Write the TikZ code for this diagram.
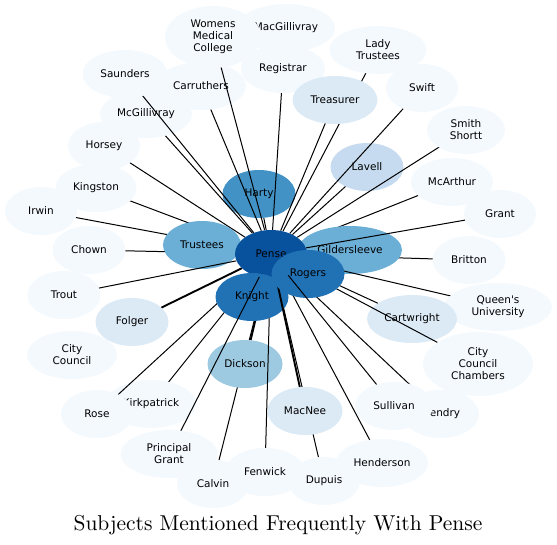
\documentclass[tikz,border=0pt]{standalone}
\usepackage{fontspec}
\newfontfamily\labfont{DejaVu Sans}
\newfontfamily\titlefont{lmroman10-regular}[Extension=.otf]
\usetikzlibrary{shapes.geometric}
\definecolor{b9}{HTML}{08519C}
\definecolor{b8}{HTML}{2171B5}
\definecolor{b7}{HTML}{4292C6}
\definecolor{b6}{HTML}{6BAED6}
\definecolor{b5}{HTML}{9ECAE1}
\definecolor{b4}{HTML}{C6DBEF}
\definecolor{b3}{HTML}{DCEAF6}
\definecolor{b1}{HTML}{F4F9FE}
\tikzset{
  basenode/.style={ellipse, minimum width=72pt, minimum height=48pt, inner sep=0pt},
  nd/.style 2 args={ellipse, inner sep=0pt, minimum height=48pt, minimum width=#2,
    fill=#1, draw=none, font=\labfont\fontsize{10.5}{12}\selectfont, align=center, text=black},
  edge/.style={draw=black, line width=1pt},
  heavyedge/.style={draw=black, line width=1.9pt},
  titlestyle/.style={font=\titlefont\fontsize{21.5}{26}\selectfont, anchor=base}
}
\begin{document}
\begin{tikzpicture}[x=1pt,y=-1pt]
\useasboundingbox (0,0) rectangle (557,545);
% invisible base nodes (edge ends)
\foreach \n/\x/\y in {pense/271/254, rogers/308/274, knight/252/297, harty/259/194,
  trustees/202/245, gilder/350/250, dickson/245/364, lavell/367/167,
  treasurer/335/100, cartwright/412/319, folger/132/322, macnee/305/411,
  wmc/213/37, macg/286/28, registrar/283/69, lady/378/50, swift/422/88,
  smith/466/130, mcarthur/452/182, grant/500/214, britton/469/260,
  queens/498/307, ccc/478/364, sullivan/394/406, hendry/441/414,
  henderson/382/463, dupuis/324/481, fenwick/265/472, calvin/213/484,
  pgrant/169/454, kirk/151/404, rose/97/414, citycouncil/72/355,
  trout/64/295, chown/89/250, irwin/41/211, kingston/96/188,
  horsey/104/146, mcgill/146/114, saunders/125/74, carruthers/201/86}
  {\node[basenode] (\n) at (\x,\y) {};}

\draw[edge] (pense) -- (harty);
\node[nd={b7}{73pt}] (harty-v) at (harty.center) {Harty};
\draw[edge] (pense) -- (lavell);
\node[nd={b4}{73pt}] (lavell-v) at (lavell.center) {Lavell};
\draw[edge] (pense) -- (carruthers);
\node[nd={b1}{90pt}] (carruthers-v) at (carruthers.center) {Carruthers};
\node[nd={b1}{98pt}] (macg-v) at (macg.center) {MacGillivray};
\draw[edge] (pense) -- (wmc);
\node[nd={b1}{96pt}, minimum height=62pt] (wmc-v) at (wmc.center) {Womens\\Medical\\College};
\draw[edge] (pense) -- (registrar);
\node[nd={b1}{84pt}] (registrar-v) at (registrar.center) {Registrar};
\draw[edge] (pense) -- (horsey);
\node[nd={b1}{72pt}] (horsey-v) at (horsey.center) {Horsey};
\draw[edge] (pense) -- (mcgill);
\node[nd={b1}{92pt}] (mcgill-v) at (mcgill.center) {McGillivray};
\draw[edge] (pense) -- (saunders);
\node[nd={b1}{85pt}] (saunders-v) at (saunders.center) {Saunders};
\draw[edge] (pense) -- (lady);
\node[nd={b1}{97pt}] (lady-v) at (lady.center) {Lady\\Trustees};
\draw[edge] (pense) -- (treasurer);
\node[nd={b3}{85pt}] (treasurer-v) at (treasurer.center) {Treasurer};
\draw[edge] (pense) -- (swift);
\node[nd={b1}{72pt}] (swift-v) at (swift.center) {Swift};
\draw[edge] (pense) -- (smith);
\node[nd={b1}{78pt}] (smith-v) at (smith.center) {Smith\\Shortt};
\draw[edge] (pense) -- (mcarthur);
\node[nd={b1}{82pt}] (mcarthur-v) at (mcarthur.center) {McArthur};
\draw[edge] (pense) -- (britton);
\node[nd={b1}{73pt}] (britton-v) at (britton.center) {Britton};
\draw[edge] (pense) -- (gilder);
\node[nd={b6}{104pt}] (gilder-v) at (gilder.center) {Gildersleeve};
\draw[edge] (pense) -- (grant);
\node[nd={b1}{72pt}] (grant-v) at (grant.center) {Grant};
\draw[edge] (pense) -- (queens);
\node[nd={b1}{108pt}] (queens-v) at (queens.center) {Queen's\\University};
\draw[edge] (pense) -- (cartwright);
\node[nd={b3}{90pt}] (cartwright-v) at (cartwright.center) {Cartwright};
\draw[edge] (pense) -- (ccc);
\node[nd={b1}{110pt}, minimum height=64pt] (ccc-v) at (ccc.center) {City\\Council\\Chambers};
\draw[edge] (pense) -- (hendry);
\node[nd={b1}{76pt}] (hendry-v) at (hendry.center) {Hendry};
\draw[edge] (pense) -- (dupuis);
\node[nd={b1}{72pt}] (dupuis-v) at (dupuis.center) {Dupuis};
\draw[edge] (pense) -- (henderson);
\node[nd={b1}{92pt}] (henderson-v) at (henderson.center) {Henderson};
\draw[edge] (pense) -- (irwin);
\node[nd={b1}{72pt}] (irwin-v) at (irwin.center) {Irwin};
\draw[edge] (pense) -- (kingston);
\node[nd={b1}{81pt}] (kingston-v) at (kingston.center) {Kingston};
\draw[edge] (pense) -- (chown);
\node[nd={b1}{73pt}] (chown-v) at (chown.center) {Chown};
\draw[edge] (pense) -- (trustees);
\node[nd={b6}{78pt}] (trustees-v) at (trustees.center) {Trustees};
\draw[edge] (pense) -- (trout);
\node[nd={b1}{73pt}] (trout-v) at (trout.center) {Trout};
\draw[heavyedge] (pense) -- (folger);
\node[nd={b3}{73pt}] (folger-v) at (folger.center) {Folger};
\node[nd={b1}{90pt}] (citycouncil-v) at (citycouncil.center) {City\\Council};
\draw[edge] (pense) -- (kirk);
\node[nd={b1}{90pt}] (kirk-v) at (kirk.center) {Kirkpatrick};
\draw[edge] (pense) -- (rose);
\node[nd={b1}{72pt}] (rose-v) at (rose.center) {Rose};
\draw[edge] (pense) -- (calvin);
\node[nd={b1}{72pt}] (calvin-v) at (calvin.center) {Calvin};
\draw[heavyedge] (pense) -- (dickson);
\node[nd={b5}{75pt}] (dickson-v) at (dickson.center) {Dickson};
\draw[edge] (pense) -- (fenwick);
\node[nd={b1}{80pt}] (fenwick-v) at (fenwick.center) {Fenwick};
\node[nd={b9}{72pt}] (pense-v) at (pense.center) {Pense};
\draw[edge] (pense) -- (knight);
\node[nd={b8}{73pt}] (knight-v) at (knight.center) {Knight};
\draw[edge] (pense) -- (pgrant);
\node[nd={b1}{97pt}] (pgrant-v) at (pgrant.center) {Principal\\Grant};
\draw[heavyedge] (pense) -- (macnee);
\node[nd={b3}{75pt}] (macnee-v) at (macnee.center) {MacNee};
\draw[edge] (pense) -- (rogers);
\node[nd={b8}{73pt}] (rogers-v) at (rogers.center) {Rogers};
\draw[edge] (pense) -- (sullivan);
\node[nd={b1}{78pt}] (sullivan-v) at (sullivan.center) {Sullivan};

\node[titlestyle] (title) at (278,530) {Subjects Mentioned Frequently With Pense};
\end{tikzpicture}
\end{document}
